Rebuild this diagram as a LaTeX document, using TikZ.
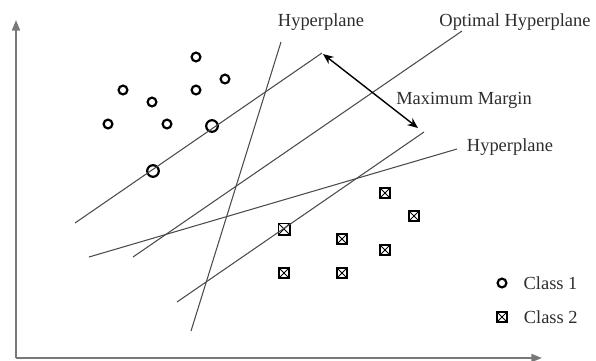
\documentclass[tikz,border=0pt]{standalone}
\usepackage{fontspec}
\setmainfont{Liberation Serif}
\usepackage{tikz}
\usetikzlibrary{arrows.meta, positioning, calc}
\usepackage{xcolor}
\definecolor{planegray}{RGB}{75, 75, 75}
\definecolor{axisgray}{RGB}{120, 120, 120}
\definecolor{textgray}{RGB}{45, 45, 45}

\tikzset{
  classone/.style={circle, draw=black, line width=1.25pt, inner sep=0pt, minimum size=5.0pt},
  supportone/.style={classone, minimum size=6.6pt},
  classtwo/.style={rectangle, draw=black, line width=1.1pt, inner sep=0pt, minimum size=5.4pt,
    path picture={\draw[line width=0.5pt]
      (path picture bounding box.south west) -- (path picture bounding box.north east)
      (path picture bounding box.north west) -- (path picture bounding box.south east);}},
  supporttwo/.style={classtwo, line width=0.8pt, minimum size=6.6pt},
  plane/.style={planegray, line width=0.6pt},
  axisline/.style={axisgray, line width=1.1pt, -{Triangle[length=6pt, width=4.5pt]}},
  tag/.style={font=\fontsize{10.5}{12}\selectfont, text=textgray, inner sep=1pt}
}

\begin{document}
\begin{tikzpicture}[x=0.02cm, y=-0.02cm]
\useasboundingbox (0,0) rectangle (596,360);

% ── Axes ────────────────────────────────────────────────────────
\coordinate (origin) at (16,358);
\coordinate (ytip)   at (16,20);
\coordinate (xtip)   at (542,358);
\draw[axisline] (origin) -- (ytip);
\draw[axisline] (origin) -- (xtip);

% ── Class 1 points ──────────────────────────────────────────────
\node[classone] (a1) at (196,57) {};
\node[classone] (a2) at (225,79) {};
\node[classone] (a3) at (123,90) {};
\node[classone] (a4) at (196,90) {};
\node[classone] (a5) at (152,102) {};
\node[classone] (a6) at (108,124) {};
\node[classone] (a7) at (167,124) {};
\node[supportone] (s1) at (212,126) {};
\node[supportone] (s2) at (153,171) {};

% ── Class 2 points ──────────────────────────────────────────────
\node[classtwo] (b1) at (385,193) {};
\node[classtwo] (b2) at (414,216) {};
\node[classtwo] (b3) at (342,239) {};
\node[classtwo] (b4) at (385,250) {};
\node[classtwo] (b5) at (284,273) {};
\node[classtwo] (b6) at (342,273) {};
\node[supporttwo] (s3) at (284,229) {};

% ── Margin planes and optimal plane ─────────────────────────────
\coordinate (upperlo) at (75,223);
\coordinate (upperhi) at (322,53);
\coordinate (optlo)   at (133,257);
\coordinate (opthi)   at (462,31);
\coordinate (lowerlo) at (177,302);
\coordinate (lowerhi) at (424,132);
\draw[plane] (upperlo) -- (upperhi);
\draw[plane] (optlo) -- (opthi);
\draw[plane] (lowerlo) -- (lowerhi);

% ── Other hyperplanes ───────────────────────────────────────────
\coordinate (steeplo)   at (191,331);
\coordinate (steephi)   at (281,42);
\coordinate (shallowlo) at (89,257);
\coordinate (shallowhi) at (457,149);
\draw[plane] (steeplo) -- (steephi);
\draw[plane] (shallowlo) -- (shallowhi);

% ── Maximum margin arrow ────────────────────────────────────────
\coordinate (margintop) at (323,54);
\coordinate (marginbot) at (418,128);
\draw[black, line width=0.8pt, {Stealth[length=6pt, width=5pt]}-{Stealth[length=6pt, width=5pt]}]
  (margintop) -- (marginbot);

% ── Labels ──────────────────────────────────────────────────────
\node[tag] (hyptop)   at (321,22)  {Hyperplane};
\node[tag] (optlabel) at (515,22)  {Optimal Hyperplane};
\node[tag] (marglab)  at (464,100) {Maximum Margin};
\node[tag] (hypright) at (510,147) {Hyperplane};

% ── Legend ──────────────────────────────────────────────────────
\node[classone] (keyone) at (502,283) {};
\node[tag, right=8pt of keyone] (keyonetext) {Class 1};
\node[classtwo] (keytwo) at (502,317) {};
\node[tag, right=8pt of keytwo] (keytwotext) {Class 2};
\end{tikzpicture}
\end{document}
